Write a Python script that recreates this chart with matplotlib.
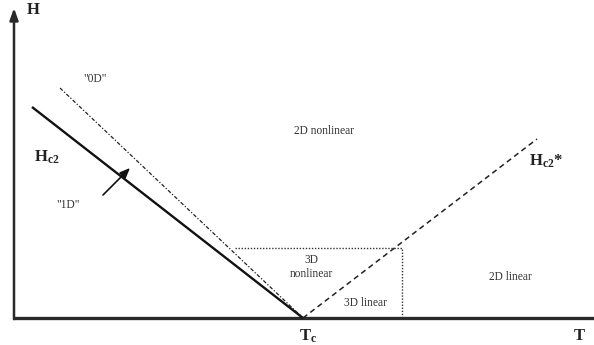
import matplotlib
matplotlib.use("Agg")
import matplotlib.pyplot as plt

plt.rcParams['font.family'] = ['Liberation Serif', 'DejaVu Serif']
plt.rcParams['mathtext.fontset'] = 'custom'
plt.rcParams['mathtext.rm'] = 'Liberation Serif'
plt.rcParams['mathtext.bf'] = 'Liberation Serif:bold'

# Phase diagram in (T, H), origin at the axes corner, Tc on the T axis
Tc = 289
T_max = 580
H_max = 310

# Upper critical field Hc2 (solid), "0D" boundary (dash-dot), Hc2* (dashed)
hc2_T = [18, Tc]
hc2_H = [211, 0]
zeroD_T = [46, Tc]
zeroD_H = [230, 0]
hc2s_T = [Tc, 523]
hc2s_H = [0, 179]

# 3D region boundary (dotted)
box_T = [221, 388, 388]
box_H = [70, 70, 0]

# "1D" arrow crossing Hc2
arrow_from = (89, 123)
arrow_to = (116, 150)

fig = plt.figure(figsize=(5.94, 3.45), dpi=100)
ax = fig.add_axes([0, 0, 1, 1])
ax.set_xlim(-14, 580)
ax.set_ylim(-27, 318)
ax.axis('off')

axis_col = '#2a2a2a'
# T axis
ax.plot([0, T_max], [0, 0], color=axis_col, lw=2.4, solid_capstyle='butt')
# H axis with arrow head
ax.annotate('', xy=(0, H_max), xytext=(0, -1.2),
            arrowprops=dict(arrowstyle='-|>,head_length=0.7,head_width=0.25',
                            color=axis_col, lw=1.8, shrinkA=0, shrinkB=0))

ax.plot(hc2_T, hc2_H, color='#111111', lw=1.7, solid_capstyle='butt')
ax.plot(zeroD_T, zeroD_H, color='#222222', lw=0.9, linestyle=(0, (3, 1.5, 1, 1.5)))
ax.plot(hc2s_T, hc2s_H, color='#222222', lw=1.1, linestyle=(0, (3.5, 2.5)))
ax.plot(box_T, box_H, color='#333333', lw=1.0, linestyle=(0, (1, 1.2)))

ax.annotate('', xy=arrow_to, xytext=arrow_from,
            arrowprops=dict(arrowstyle='-|>,head_length=0.6,head_width=0.25',
                            color='#111111', lw=1.2, shrinkA=0, shrinkB=0))

dark = '#222222'
ax.text(19, 308, 'H', ha='center', va='center', fontsize=12, fontweight='bold', color=dark)
ax.text(565, -18, 'T', ha='center', va='center', fontsize=12, fontweight='bold', color=dark)
ax.text(294, -18, r'$\mathbf{T_c}$', ha='center', va='center', fontsize=12, color=dark)
ax.text(33, 161, r'$\mathbf{H_{c2}}$', ha='center', va='center', fontsize=12, color=dark)
ax.text(532, 157, r'$\mathbf{H_{c2}}$*', ha='center', va='center', fontsize=12,
        fontweight='bold', color=dark)

txt = '#333333'
fs = 8.3
ax.text(81, 239, '"0D"', ha='center', va='center', fontsize=fs, color=txt)
ax.text(54, 113, '"1D"', ha='center', va='center', fontsize=fs, color=txt)
ax.text(310, 187, '2D nonlinear', ha='center', va='center', fontsize=fs, color=txt)
ax.text(297, 51, '3D\nnonlinear', ha='center', va='center', fontsize=fs,
        color=txt, linespacing=1.3)
ax.text(352, 15, '3D linear', ha='center', va='center', fontsize=fs, color=txt)
ax.text(496, 41, '2D linear', ha='center', va='center', fontsize=fs, color=txt)

fig.savefig('out.png', dpi=100)
